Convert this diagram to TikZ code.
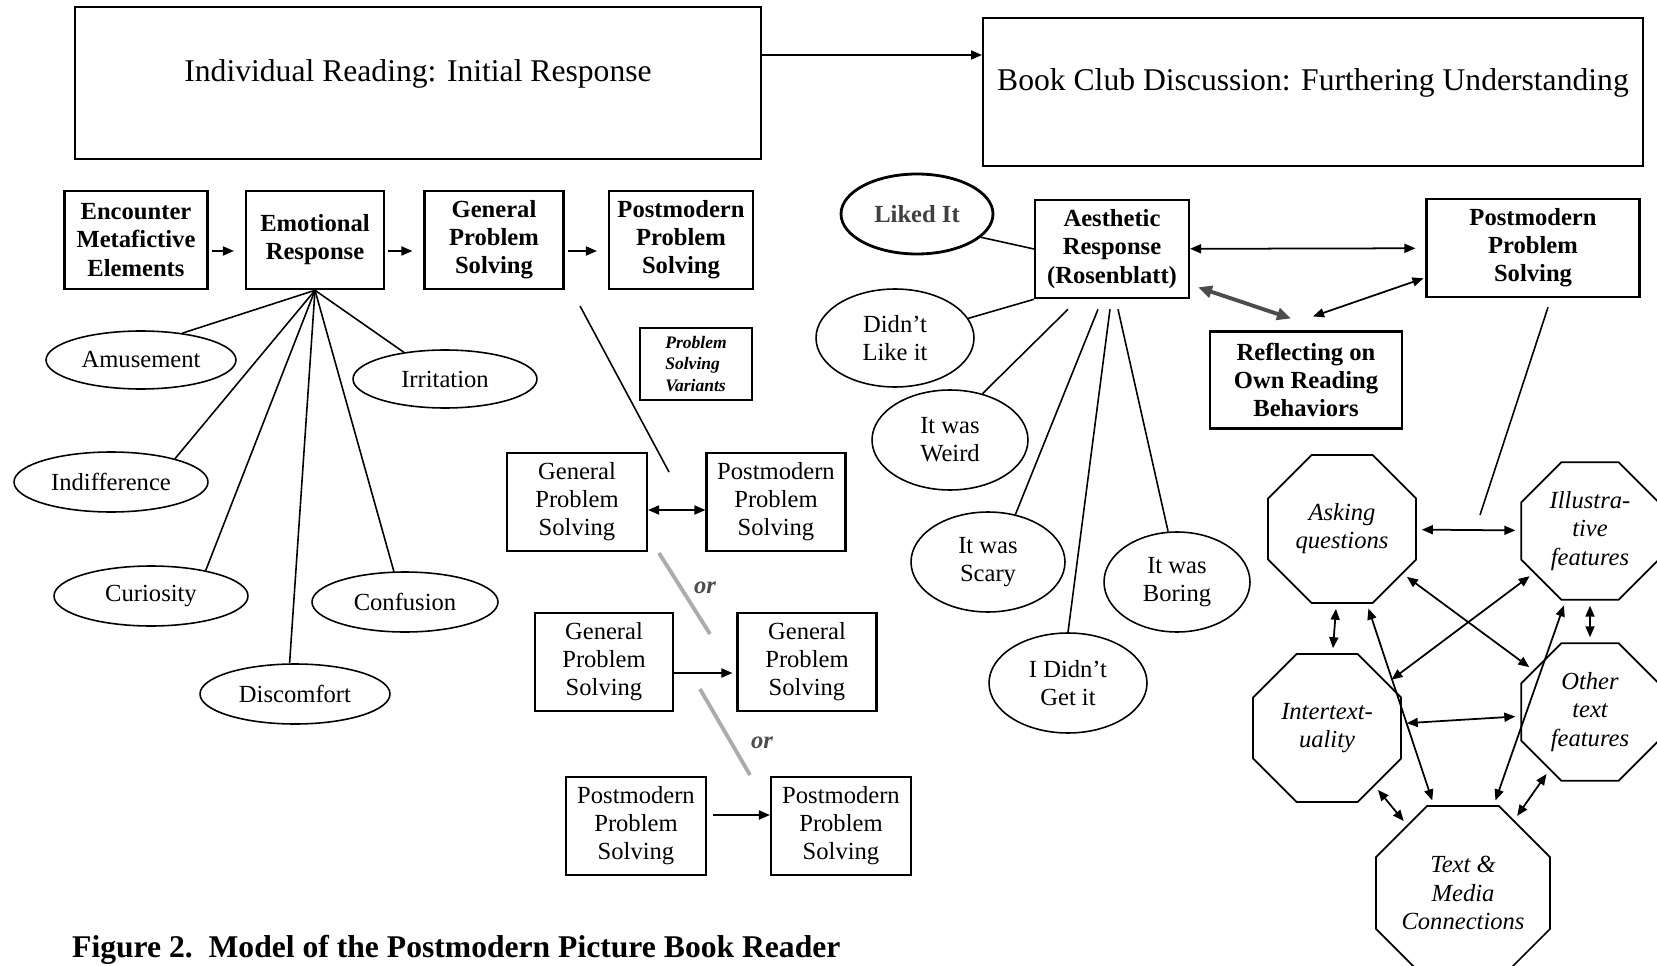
\documentclass[tikz,border=0pt]{standalone}
\usepackage{fontspec}
\setmainfont{Liberation Serif}
\usetikzlibrary{shapes.geometric,arrows.meta}

\newcommand{\txtfnt}{\fontsize{14}{16}\selectfont}
\newcommand{\bigfnt}{\fontsize{18}{21}\selectfont}
\newcommand{\tinyfnt}{\fontsize{10}{12}\selectfont}

\tikzset{
  box/.style={draw, line width=1.2pt, inner sep=0pt, align=center, font=\txtfnt, minimum height=1.97cm},
  bbox/.style={box, font=\txtfnt\bfseries},
  bigbox/.style={draw, line width=1.2pt, inner sep=0pt, font=\bigfnt, text depth=0.5cm},
  feel/.style={draw, ellipse, line width=0.9pt, inner sep=0pt, align=center, font=\txtfnt},
  octo/.style={draw, regular polygon, regular polygon sides=8, minimum size=3.2cm, inner sep=0pt,
    line width=1pt, align=center, font=\txtfnt\itshape, fill=white},
  link/.style={line width=0.9pt},
  orline/.style={gray!65, line width=2.2pt},
  ortext/.style={font=\txtfnt\itshape\bfseries, text=gray!60!black},
}

\begin{document}
\begin{tikzpicture}[x=0.02cm, y=-0.02cm, >={Triangle[length=0.22cm,width=0.18cm]}]
    \useasboundingbox (0,0) rectangle (1657,966);
    \clip (0,0) rectangle (1657,966);

    % Phases
    \node[bigbox, minimum width=13.74cm, minimum height=3.04cm] (indiv) at (418,83) {Individual Reading: Initial Response};
    \node[bigbox, minimum width=13.2cm, minimum height=2.96cm] (club) at (1313,92) {Book Club Discussion: Furthering Understanding};
    \draw[->, line width=1pt] (indiv.east |- 0,55) -- (club.west |- 0,55);

    % Individual reading chain
    \node[bbox, minimum width=2.86cm] (enc) at (136,240) {Encounter\\Metafictive\\Elements};
    \node[bbox, minimum width=2.76cm] (emo) at (315,240) {Emotional\\Response};
    \node[bbox, minimum width=2.78cm] (gps) at (494,240) {General\\Problem\\Solving};
    \node[bbox, minimum width=2.88cm] (pms) at (681,240) {Postmodern\\Problem\\Solving};
    \foreach \a/\b in {enc/emo, emo/gps, gps/pms}
      \draw[->, line width=1pt, shorten <=0.06cm, shorten >=0.22cm] ([yshift=-0.22cm]\a.east) -- ([yshift=-0.22cm]\b.west);

    % Emotional responses
    \node[feel, minimum width=3.8cm, minimum height=1.16cm] (amus) at (141,360) {Amusement};
    \node[feel, minimum width=3.68cm, minimum height=1.16cm] (irr) at (445,379) {Irritation};
    \node[feel, minimum width=3.88cm, minimum height=1.2cm] (indif) at (111,482) {Indifference};
    \node[feel, minimum width=3.88cm, minimum height=1.2cm] (cur) at (151,596) {Curiosity};
    \node[feel, minimum width=3.8cm, minimum height=1.2cm] (disc) at (295,694) {Discomfort};
    \node[feel, minimum width=3.72cm, minimum height=1.2cm] (conf) at (405,602) {Confusion};
    \foreach \e/\a in {amus/33, irr/147, indif/20, cur/25, disc/100, conf/110}
      \draw[link] (emo.south) -- (\e.\a);

    % Problem solving variants
    \node[draw, line width=1pt, inner sep=0pt, align=left, font=\tinyfnt\itshape\bfseries,
      minimum width=2.24cm, minimum height=1.44cm] (vars) at (696,364) {Problem\\Solving\\Variants};
    \coordinate (varstart) at (580,306);
    \coordinate (varend) at (669,472);
    \draw[link] (varstart) -- (varend);

    \node[box, minimum width=2.8cm] (gpsa) at (577,502) {General\\Problem\\Solving};
    \node[box, minimum width=2.78cm] (pmsa) at (776,502) {Postmodern\\Problem\\Solving};
    \draw[<->, line width=1pt] ([yshift=-0.16cm]gpsa.east) -- ([yshift=-0.16cm]pmsa.west);

    \node[box, minimum width=2.76cm] (gpsb) at (604,662) {General\\Problem\\Solving};
    \node[box, minimum width=2.78cm] (gpsc) at (807,662) {General\\Problem\\Solving};
    \draw[->, line width=1pt, shorten >=0.08cm] ([yshift=-0.22cm]gpsb.east) -- ([yshift=-0.22cm]gpsc.west);

    \node[box, minimum width=2.8cm] (pmsb) at (636,826) {Postmodern\\Problem\\Solving};
    \node[box, minimum width=2.8cm] (pmsc) at (841,826) {Postmodern\\Problem\\Solving};
    \draw[->, line width=1pt, shorten <=0.12cm] ([yshift=0.22cm]pmsb.east) -- ([yshift=0.22cm]pmsc.west);

    % "or" separators
    \coordinate (ora) at (659,553);
    \coordinate (orb) at (710,634);
    \coordinate (orc) at (700,689);
    \coordinate (ord) at (750,775);
    \draw[orline] (ora) -- (orb);
    \draw[orline] (orc) -- (ord);
    \node[ortext] (or1) at (705,588) {or};
    \node[ortext] (or2) at (762,743) {or};

    % Book club discussion
    \node[bbox, minimum width=3.08cm] (aes) at (1112,249) {Aesthetic\\Response\\(Rosenblatt)};
    \node[bbox, minimum width=4.26cm] (ppsr) at (1533,248) {Postmodern\\Problem\\Solving};
    \node[bbox, minimum width=3.84cm, minimum height=1.94cm] (refl) at (1306,380) {Reflecting on\\Own Reading\\Behaviors};
    \draw[<->, line width=1pt, shorten >=0.2cm] (aes) -- (ppsr);
    \draw[<->, gray!60!black, line width=2.2pt, >={Triangle[length=0.28cm,width=0.24cm]}]
      ([shift={(8,-12)}]aes.south east) -- ([shift={(-15,-12)}]refl.north);
    \draw[<->, line width=1pt] ([shift={(-2,-20)}]ppsr.south west) -- ([shift={(7,-14)}]refl.north);
    \coordinate (octlink) at (1480,515);
    \draw[link] ([shift={(15,9)}]ppsr.south) -- (octlink);

    % Aesthetic responses
    \node[feel, line width=1.6pt, font=\txtfnt\bfseries, text=black!75, minimum width=3.04cm, minimum height=1.6cm] (liked) at (917,214) {Liked It};
    \node[feel, minimum width=3.16cm, minimum height=1.96cm] (didnt) at (895,338) {Didn't\\Like it};
    \node[feel, minimum width=3.12cm, minimum height=2cm] (weird) at (950,440) {It was\\Weird};
    \node[feel, minimum width=3.08cm, minimum height=2cm] (scary) at (988,562) {It was\\Scary};
    \node[feel, minimum width=3.16cm, minimum height=2cm] (idgi) at (1068,683) {I Didn't\\Get it};
    \node[feel, minimum width=2.92cm, minimum height=2cm] (boring) at (1177,582) {It was\\Boring};
    \draw[link] (liked.-20) -- (aes.west);
    \draw[link] (didnt.15) -- (aes.south west);
    \draw[link] (weird.55) -- ([shift={(-44,10)}]aes.south);
    \draw[link] (scary.60) -- ([shift={(-14,10)}]aes.south);
    \draw[link] (idgi.90) -- ([shift={(-2,10)}]aes.south);
    \draw[link] (boring.100) -- ([shift={(6,10)}]aes.south);

    % Postmodern features
    \node[octo] (ask) at (1342,529) {Asking\\questions};
    \node[octo, minimum size=2.98cm] (ill) at (1590,531) {Illustra-\\tive\\features};
    \node[octo] (inter) at (1327,728) {Intertext-\\uality};
    \node[octo, minimum size=2.98cm] (other) at (1590,712) {Other\\text\\features};
    \node[octo] (tmc) at (1463,893) {Text \&\\Media\\Connections};
    \foreach \a/\b in {ask/ill, ask/inter, ill/other, inter/other, ask/other, ill/inter, ask/tmc, ill/tmc, inter/tmc, other/tmc}
      \draw[<->, line width=1pt, shorten <=0.1cm, shorten >=0.1cm] (\a) -- (\b);

    % Caption
    \node[anchor=base west, font=\bigfnt\bfseries] (capt) at (66,957) {Figure 2.\ \ Model of the Postmodern Picture Book Reader};
\end{tikzpicture}
\end{document}
